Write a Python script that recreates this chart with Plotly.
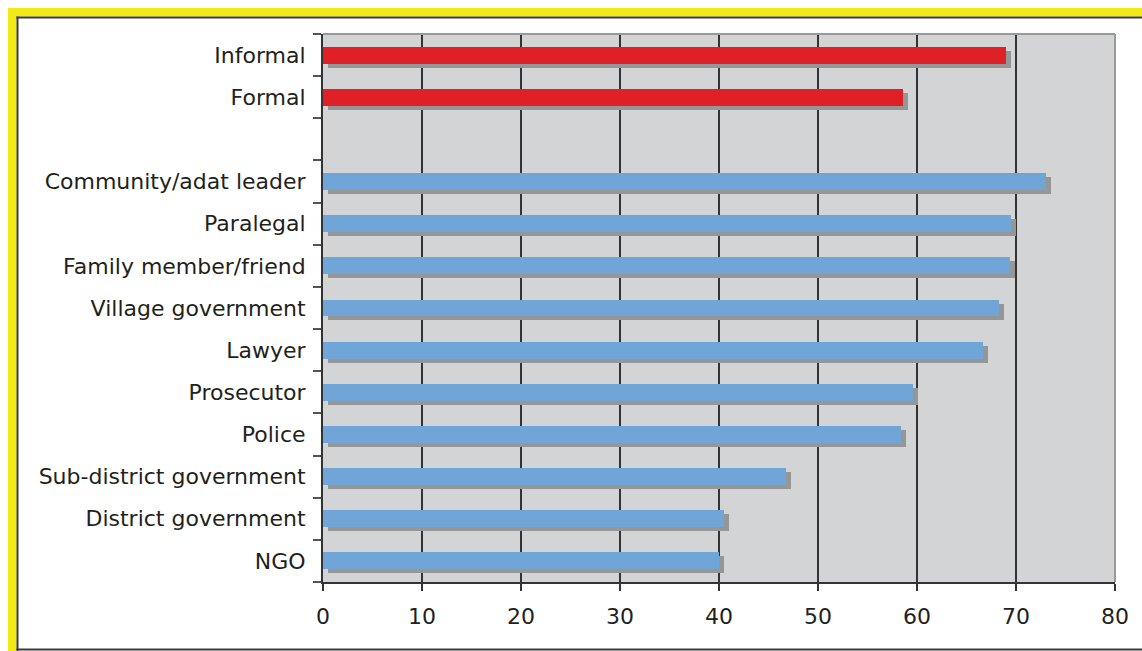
import plotly.graph_objects as go

# ---- data ----
category_order = ["Informal", "Formal", " ",
                  "Community/adat leader", "Paralegal", "Family member/friend",
                  "Village government", "Lawyer", "Prosecutor", "Police",
                  "Sub-district government", "District government", "NGO"]
system_labels = ["Informal", "Formal"]
system_values = [69.0, 58.6]
actor_labels = ["Community/adat leader", "Paralegal", "Family member/friend",
                "Village government", "Lawyer", "Prosecutor", "Police",
                "Sub-district government", "District government", "NGO"]
actor_values = [73.0, 69.5, 69.4, 68.3, 66.7, 59.6, 58.4, 46.8, 40.5, 40.0]
x_ticks = [0, 10, 20, 30, 40, 50, 60, 70, 80]

# ---- layout geometry (pixels) ----
W, H = 1142, 651
ML, MR, MT, MB = 323, 27, 34, 69
PW, PH = W - ML - MR, H - MT - MB
ROW = PH / len(category_order)

RED = "#e02027"
BLUE = "#6fa5d7"
SHADOW = "#969696"
TEXT = "#231f20"

bar_w = 0.4
shadow_dy = 4 / ROW      # shadow shifted down (reversed axis)
shadow_dx = 0.5          # shadow shifted right, in axis units

fig = go.Figure()
for labels, vals, col in [(system_labels, system_values, RED),
                          (actor_labels, actor_values, BLUE)]:
    fig.add_trace(go.Bar(y=labels, x=vals, base=shadow_dx, orientation="h",
                         width=bar_w, offset=-bar_w / 2 + shadow_dy,
                         marker=dict(color=SHADOW, line=dict(width=0)),
                         hoverinfo="skip", showlegend=False))
for labels, vals, col in [(system_labels, system_values, RED),
                          (actor_labels, actor_values, BLUE)]:
    fig.add_trace(go.Bar(y=labels, x=vals, orientation="h",
                         width=bar_w, offset=-bar_w / 2,
                         marker=dict(color=col, line=dict(width=0)),
                         showlegend=False))


def xp(px):
    return (px - ML) / PW


def yp(py):
    return (H - MB - py) / PH


shapes = []
YEL = "#f2ea17"
DARK = "#3a3a3a"
# yellow frame
shapes.append(dict(type="rect", xref="paper", yref="paper",
                   x0=xp(8), x1=xp(W + 5), y0=yp(8), y1=yp(16.5),
                   fillcolor=YEL, line=dict(width=0), layer="above"))
shapes.append(dict(type="rect", xref="paper", yref="paper",
                   x0=xp(8), x1=xp(16.5), y0=yp(8), y1=yp(H + 5),
                   fillcolor=YEL, line=dict(width=0), layer="above"))
# dark inner frame lines
shapes.append(dict(type="line", xref="paper", yref="paper",
                   x0=xp(16.5), x1=xp(W + 5), y0=yp(17.5), y1=yp(17.5),
                   line=dict(color=DARK, width=2), layer="above"))
shapes.append(dict(type="line", xref="paper", yref="paper",
                   x0=xp(17.5), x1=xp(17.5), y0=yp(16.5), y1=yp(H + 5),
                   line=dict(color=DARK, width=2), layer="above"))
shapes.append(dict(type="line", xref="paper", yref="paper",
                   x0=xp(16.5), x1=xp(W + 5), y0=yp(649.5), y1=yp(649.5),
                   line=dict(color=DARK, width=2), layer="above"))
# plot area gray border (top/right)
shapes.append(dict(type="line", xref="paper", yref="paper",
                   x0=0, x1=1, y0=1, y1=1,
                   line=dict(color="#999999", width=2), layer="above"))
shapes.append(dict(type="line", xref="paper", yref="paper",
                   x0=1, x1=1, y0=0, y1=1,
                   line=dict(color="#999999", width=2), layer="above"))

fig.update_layout(
    width=W, height=H,
    margin=dict(l=ML, r=MR, t=MT, b=MB, pad=0),
    paper_bgcolor="white",
    plot_bgcolor="#d3d4d6",
    barmode="overlay",
    bargap=0,
    font=dict(family="DejaVu Sans, Verdana, sans-serif", size=22, color=TEXT),
    shapes=shapes,
    xaxis=dict(range=[0, 80], tickvals=x_ticks, ticks="outside", ticklen=7,
               tickcolor="#333333", tickwidth=1.5,
               showgrid=True, gridcolor="#333333", gridwidth=1.5,
               zeroline=False, showline=True, linecolor="#333333", linewidth=2,
               ticklabelstandoff=7,
               tickfont=dict(size=22, color=TEXT), fixedrange=True),
    yaxis=dict(type="category", categoryorder="array", categoryarray=category_order,
               range=[len(category_order) - 0.5, -0.5],
               tickmode="array", tickvals=category_order, ticktext=category_order,
               tickson="boundaries", ticks="outside", ticklen=8,
               tickcolor="#555555", tickwidth=1.5,
               showgrid=False, zeroline=False, showline=True,
               linecolor="#333333", linewidth=2,
               ticklabelstandoff=11,
               tickfont=dict(size=22, color=TEXT), fixedrange=True),
)

fig.write_html("out.html", config=dict(displayModeBar=False))
